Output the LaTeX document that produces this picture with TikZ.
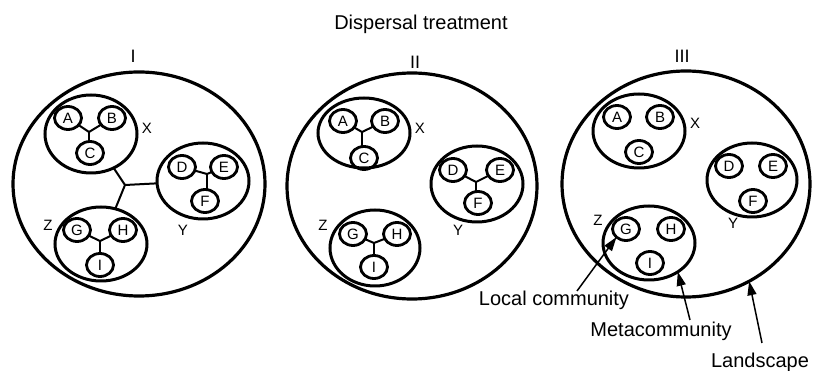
\documentclass[tikz,border=0pt]{standalone}
\usepackage{fontspec}
\setmainfont{Liberation Sans}
\usetikzlibrary{shapes.geometric,arrows.meta}
\tikzset{
  ell/.style={ellipse,draw,inner sep=0pt,outer sep=0pt},
  landell/.style={ell,line width=3.2pt},
  metaell/.style={ell,line width=3pt},
  spcirc/.style={ell,line width=2.8pt,minimum width=27pt,minimum height=23pt,font=\fontsize{15}{17}\selectfont},
  jline/.style={line width=2pt},
  lbl/.style={inner sep=0pt,font=\fontsize{15}{17}\selectfont},
  roman/.style={inner sep=0pt,anchor=base,font=\fontsize{18}{20}\selectfont},
  bigtxt/.style={inner sep=0pt,anchor=base,font=\fontsize{20}{22}\selectfont},
  arr/.style={line width=1.5pt,-{Triangle[length=14pt,width=9pt]}},
  junc/.style={coordinate}
}
\begin{document}
\begin{tikzpicture}[x=1pt,y=-1pt]
\useasboundingbox (0,0) rectangle (815,371);
\node[bigtxt] (title) at (421,30) {Dispersal treatment};
% ---------- Panel I ----------
\node[roman] (n1) at (133,63) {I};
\node[landell,minimum width=252pt,minimum height=224pt] (L1) at (139,184) {};
\node[metaell,minimum width=92pt,minimum height=78pt] (X1) at (91,134) {};
\node[metaell,minimum width=92pt,minimum height=76pt] (Y1) at (203,181) {};
\node[metaell,minimum width=92pt,minimum height=74pt] (Z1) at (101,244) {};
\node[spcirc] (A1) at (68,118) {A};
\node[spcirc] (B1) at (112,118) {B};
\node[spcirc] (C1) at (90,153) {C};
\node[spcirc] (D1) at (182,167) {D};
\node[spcirc] (E1) at (224,167) {E};
\node[spcirc] (F1) at (205,201) {F};
\node[spcirc] (G1) at (77,230) {G};
\node[spcirc] (H1) at (123,230) {H};
\node[spcirc] (I1) at (100,265) {I};
\node[lbl] (xl1) at (147,128) {X};
\node[lbl] (yl1) at (183,230) {Y};
\node[lbl] (zl1) at (48,225) {Z};
\coordinate (jx1) at (89,132);
\coordinate (jy1) at (207,174);
\coordinate (jz1) at (100,241);
\coordinate (J1) at (125,185);
\draw[jline] (A1) -- (jx1) -- (B1); \draw[jline] (jx1) -- (jx1 |- C1.north);
\draw[jline] (D1) -- (jy1) -- (E1); \draw[jline] (jy1) -- (jy1 |- F1.north);
\draw[jline] (G1) -- (jz1) -- (H1); \draw[jline] (jz1) -- (jz1 |- I1.north);
\draw[jline] (J1) -- (X1); \draw[jline] (J1) -- (Y1); \draw[jline] (J1) -- (Z1);
% ---------- Panel II ----------
\node[roman] (n2) at (415,69) {II};
\node[landell,minimum width=250pt,minimum height=226pt] (L2) at (412,186) {};
\node[metaell,minimum width=92pt,minimum height=70pt] (X2) at (364,133) {};
\node[metaell,minimum width=92pt,minimum height=76pt] (Y2) at (477,184) {};
\node[metaell,minimum width=90pt,minimum height=76pt] (Z2) at (375,248) {};
\node[spcirc] (A2) at (343,121) {A};
\node[spcirc] (B2) at (385,121) {B};
\node[spcirc] (C2) at (364,158) {C};
\node[spcirc] (D2) at (453,170) {D};
\node[spcirc] (E2) at (500,170) {E};
\node[spcirc] (F2) at (478,203) {F};
\node[spcirc] (G2) at (353,234) {G};
\node[spcirc] (H2) at (397,234) {H};
\node[spcirc] (I2) at (374,267) {I};
\node[lbl] (xl2) at (420,128) {X};
\node[lbl] (yl2) at (458,230) {Y};
\node[lbl] (zl2) at (323,225) {Z};
\coordinate (jx2) at (362,132);
\coordinate (jy2) at (476,182);
\coordinate (jz2) at (374,243);
\draw[jline] (A2) -- (jx2) -- (B2); \draw[jline] (jx2) -- (jx2 |- C2.north);
\draw[jline] (D2) -- (jy2) -- (E2); \draw[jline] (jy2) -- (jy2 |- F2.north);
\draw[jline] (G2) -- (jz2) -- (H2); \draw[jline] (jz2) -- (jz2 |- I2.north);
% ---------- Panel III ----------
\node[roman] (n3) at (682,63) {III};
\node[landell,minimum width=248pt,minimum height=226pt] (L3) at (686,184) {};
\node[metaell,minimum width=92pt,minimum height=74pt] (X3) at (639,131) {};
\node[metaell,minimum width=90pt,minimum height=74pt] (Y3) at (752,180) {};
\node[metaell,minimum width=92pt,minimum height=74pt] (Z3) at (649,243) {};
\node[spcirc] (A3) at (617,117) {A};
\node[spcirc] (B3) at (660,117) {B};
\node[spcirc] (C3) at (639,152) {C};
\node[spcirc] (D3) at (729,166) {D};
\node[spcirc] (E3) at (773,166) {E};
\node[spcirc] (F3) at (753,201) {F};
\node[spcirc] (G3) at (626,229) {G};
\node[spcirc] (H3) at (671,229) {H};
\node[spcirc] (I3) at (650,263) {I};
\node[lbl] (xl3) at (695,123) {X};
\node[lbl] (yl3) at (733,223) {Y};
\node[lbl] (zl3) at (598,220) {Z};
% ---------- legend ----------
\node[bigtxt] (lc) at (554,306) {Local community};
\node[bigtxt] (mc) at (661,337) {Metacommunity};
\node[bigtxt] (ls) at (760,368) {Landscape};
\coordinate (lct) at (577,291);
\coordinate (mct) at (690,320);
\coordinate (lst) at (762,343);
\draw[arr] (lct) -- (G3.south west);
\draw[arr] (mct) -- (Z3.-45);
\draw[arr] (lst) -- (L3.-57);
\end{tikzpicture}
\end{document}
